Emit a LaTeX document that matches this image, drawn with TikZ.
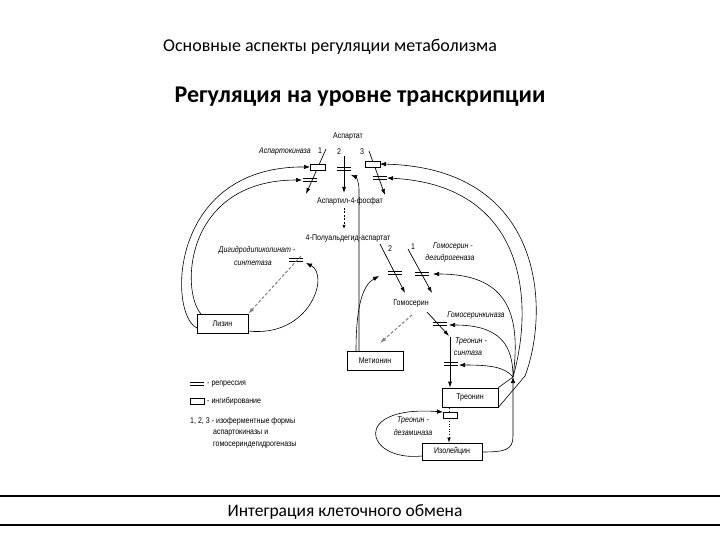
\documentclass[tikz,border=0pt]{standalone}
\usepackage{fontspec}
\setmainfont{Carlito}
\newfontfamily\dfont[FakeStretch=0.85]{Liberation Sans}
\usetikzlibrary{arrows.meta}
\begin{document}
\begin{tikzpicture}[x=1pt,y=-1pt,
  lbl/.style={font=\dfont\fontsize{8.3}{9}\selectfont, inner sep=0pt},
  enz/.style={font=\dfont\itshape\fontsize{8.3}{9}\selectfont, inner sep=0pt},
  leg/.style={font=\dfont\fontsize{8.3}{9}\selectfont, inner sep=0pt, anchor=west},
  metab/.style={draw, line width=0.7pt, inner sep=0pt, font=\dfont\fontsize{8.3}{9}\selectfont},
  inh/.style={draw, line width=0.6pt, fill=white, inner sep=0pt, minimum width=15pt, minimum height=6pt},
  path/.style={line width=0.7pt, -{Latex[length=6pt,width=4pt]}},
  fb/.style={line width=0.6pt, -{Latex[length=6pt,width=4.5pt]}},
  dpath/.style={line width=1pt, gray, dash pattern=on 3pt off 2pt, -{Latex[length=6pt,width=4pt]}},
  repsym/.pic={\draw[line width=1.1pt] (-7,-1.7)--(7,-1.7) (-7,1.7)--(7,1.7);}
]
\useasboundingbox (0,0) rectangle (720,540);

% titles
\node[font=\fontsize{18}{20}\selectfont, inner sep=0pt] (t1) at (330,47) {Основные аспекты регуляции метаболизма};
\node[font=\bfseries\fontsize{24}{26}\selectfont, inner sep=0pt] (t2) at (360,97) {Регуляция на уровне транскрипции};
\coordinate (fl1) at (0,496); \coordinate (fr1) at (720,496);
\coordinate (fl2) at (0,525); \coordinate (fr2) at (720,525);
\draw[line width=1.3pt] (fl1) -- (fr1);
\draw[line width=1.3pt] (fl2) -- (fr2);
\node[font=\fontsize{17.5}{19}\selectfont, inner sep=0pt] (ft) at (345,512) {Интеграция клеточного обмена};

% top: aspartate and aspartokinases
\node[lbl] (asp) at (348,137) {Аспартат};
\node[enz, anchor=east] (ak) at (311,152) {Аспартокиназа};
\node[lbl] (k1) at (320,151) {1};
\node[lbl] (k2) at (339,152) {2};
\node[lbl] (k3) at (362,152) {3};
\node[lbl] (a4p) at (350,201) {Аспартил-4-фосфат};
\node[lbl] (asa) at (348,239) {4-Полуальдегид-аспартат};

\coordinate (a1s) at (326,149); \coordinate (a1e) at (306,194);
\coordinate (a2s) at (344,156); \coordinate (a2e) at (344,193);
\coordinate (a3s) at (369,151); \coordinate (a3e) at (385,195);
\draw[path] (a1s) -- (a1e);
\draw[path] (a2s) -- (a2e);
\draw[path] (a3s) -- (a3e);
\node[inh] (ib1) at (318,167) {};
\pic at (310,180) {repsym};
\pic at (344,169) {repsym};
\node[inh] (ib3) at (373,164) {};
\pic at (380,178) {repsym};

\coordinate (d1s) at (344,208); \coordinate (d1e) at (344,229);
\draw[line width=0.6pt, dash pattern=on 2pt off 1.5pt, -{Latex[length=4pt,width=3pt]}] (d1s) -- (d1e);

% lysine branch
\node[enz] (dh1) at (257,250) {Дигидродипиколинат -};
\node[enz] (dh2) at (253,263) {синтетаза};
\pic at (296,260) {repsym};
\node[metab, minimum width=51pt, minimum height=19pt] (lys) at (222.5,323.5) {Лизин};
\coordinate (dhs) at (301,256);
\draw[dpath] (dhs) -- (lys.north east);
\coordinate (lysr) at (248,331); \coordinate (dht) at (306,263);
\draw[fb] (lysr) .. controls (310,338) and (330,275) .. (dht);
\coordinate (lo) at (197,328); \coordinate (li) at (201,314);
\coordinate (ak1t) at (310,167); \coordinate (ak1r) at (302,180);
\draw[fb] (lo) .. controls (168,315) and (168,166) .. (ak1t);
\draw[fb] (li) .. controls (180,290) and (185,180) .. (ak1r);

% homoserine branch
\node[lbl] (h2) at (390,249) {2};
\node[lbl] (h1) at (413,247) {1};
\node[enz] (hd1) at (453,247) {Гомосерин -};
\node[enz] (hd2) at (450,258) {дегидрогеназа};
\coordinate (b2s) at (380,244); \coordinate (b2e) at (405,293);
\coordinate (b1s) at (408,249); \coordinate (b1e) at (432,293);
\draw[path] (b2s) -- (b2e);
\draw[path] (b1s) -- (b1e);
\pic at (395,273) {repsym};
\pic at (422,274) {repsym};
\node[lbl] (hom) at (411,304) {Гомосерин};

% methionine
\node[metab, minimum width=56pt, minimum height=19pt] (met) at (375,360.5) {Метионин};
\coordinate (hds) at (412,315); \coordinate (hde) at (380,343);
\draw[dpath] (hds) -- (hde);
\coordinate (mv) at (359,351); \coordinate (mvt) at (359,190); \coordinate (ak2t) at (351,175);
\draw[fb] (mv) -- (mvt) .. controls (359,181) and (356,177) .. (ak2t);
\coordinate (mc) at (356,351); \coordinate (hd2t) at (379,276);
\draw[fb] (mc) .. controls (356,305) and (363,285) .. (hd2t);

% threonine branch
\node[enz] (hk) at (476,316) {Гомосеринкиназа};
\coordinate (c1s) at (427,312); \coordinate (c1e) at (449,336);
\draw[path] (c1s) -- (c1e);
\pic at (440,324) {repsym};
\node[enz] (ts1) at (471,342) {Треонин -};
\node[enz] (ts2) at (468,353) {синтаза};
\coordinate (c2s) at (450,337);
\node[metab, minimum width=56pt, minimum height=19pt] (thr) at (470,397.5) {Треонин};
\draw[path] (c2s) -- (c2s |- thr.north);
\pic at (451,364) {repsym};

% isoleucine
\node[metab, minimum width=60pt, minimum height=17pt] (ile) at (452,451.5) {Изолейцин};
\node[enz] (td1) at (413,421) {Треонин -};
\node[enz] (td2) at (413,433) {дезаминаза};
\draw[line width=0.6pt, dotted, -{Latex[length=5pt,width=3.5pt]}] (449,408) -- (ile.north -| 449,0);
\node[inh, minimum width=14pt] (tdb) at (450,415) {};
\coordinate (ilel) at (422,456); \coordinate (tdt) at (443,412);
\draw[fb] (ilel) .. controls (365,462) and (350,405) .. (tdt);

% feedback from threonine / isoleucine
\coordinate (P) at (513,377);
\coordinate (Q) at (525,376);
\draw[line width=0.6pt] (thr.north east) -- (P);
\draw[line width=0.6pt] (thr.south east) -- (Q);
\coordinate (iler) at (482,452);
\draw[fb] (iler) .. controls (505,452) and (513,450) .. (513,436) -- (P);
\coordinate (ak3b) at (380,164); \coordinate (ak3r) at (387,178);
\draw[fb] (Q) .. controls (550,310) and (545,168) .. (ak3b);
\draw[fb] (P) .. controls (535,300) and (525,185) .. (ak3r);
\coordinate (hd1t) at (433,274);
\draw[fb] (P) .. controls (522,310) and (505,274) .. (hd1t);
\coordinate (hkt) at (449,325);
\draw[fb] (P) .. controls (513,345) and (500,325) .. (hkt);
\coordinate (tst) at (459,365);
\draw[fb] (P) .. controls (505,367) and (490,365) .. (tst);

% legend
\pic at (197,384) {repsym};
\node[leg] (l1) at (207,384) {- репрессия};
\node[inh, minimum width=14pt] (lb) at (197,401) {};
\node[leg] (l2) at (207,401) {- ингибирование};
\node[leg] (l3) at (190,421) {1, 2, 3 - изоферментные формы};
\node[leg] (l4) at (213,433) {аспартокиназы и};
\node[leg] (l5) at (213,445) {гомосериндегидрогеназы};
\end{tikzpicture}
\end{document}
